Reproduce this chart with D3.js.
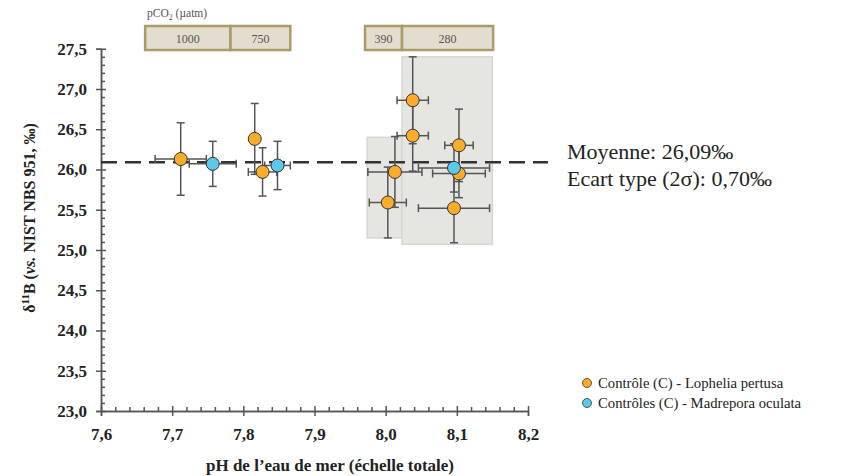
<!DOCTYPE html>
<html lang="fr">
<head>
    <meta charset="utf-8">
    <script src="https://cdn.jsdelivr.net/npm/d3@7"></script>
    <style>
        body { margin: 0; background: #fff; }
        text { font-family: "Liberation Serif", "Times New Roman", serif; }
    </style>
</head>
<body>
<script>

    // Contrôles Lophelia pertusa : [pH, erreur pH, d11B, erreur d11B (2σ)]
    let lophelia = [
        [7.712, 0.036, 26.13, 0.45],
        [7.816, 0.000, 26.38, 0.44],
        [7.827, 0.020, 25.97, 0.30],
        [8.038, 0.022, 26.86, 0.54],
        [8.038, 0.022, 26.42, 0.44],
        [8.013, 0.038, 25.97, 0.44],
        [8.003, 0.026, 25.59, 0.44],
        [8.103, 0.020, 26.30, 0.45],
        [8.103, 0.037, 25.95, 0.30],
        [8.096, 0.050, 25.52, 0.43]
    ];

    // Contrôles Madrepora oculata
    let madrepora = [
        [7.757, 0.033, 26.07, 0.28],
        [7.848, 0.018, 26.05, 0.30],
        [8.096, 0.050, 26.02, 0.30]
    ];

    // pCO2 boxes : label, pH min, pH max
    let pco2Boxes = [
        ["1000", 7.662, 7.782],
        ["750", 7.782, 7.866],
        ["390", 7.971, 8.023],
        ["280", 8.023, 8.151]
    ];

    // shaded zones : pH min, pH max, d11B min, d11B max
    let zones = [
        [7.974, 8.023, 25.15, 26.40],
        [8.023, 8.150, 25.07, 27.40]
    ];

    let meanValue = 26.09;
    let statLines = ["Moyenne: 26,09‰", "Ecart type (2σ): 0,70‰"];
    let xTicks = [7.6, 7.7, 7.8, 7.9, 8.0, 8.1, 8.2];
    let yTicks = [23.0, 23.5, 24.0, 24.5, 25.0, 25.5, 26.0, 26.5, 27.0, 27.5];

    let w = 843;
    let h = 476;

    let x = d3.scaleLinear().domain([7.6, 8.2]).range([101, 528]);
    let y = d3.scaleLinear().domain([23, 27.5]).range([411, 48.75]);
    let fmt = d => d3.format(".1f")(d).replace(".", ",");

    let svg = d3.select("body")
        .append("svg")
        .attr("width", w)
        .attr("height", h);

    // pCO2 header
    svg.append("text")
        .attr("x", 147).attr("y", 17)
        .attr("font-size", 11.5).attr("fill", "#555")
        .html('pCO<tspan font-size="8" dy="3">2</tspan><tspan dy="-3"> (µatm)</tspan>');

    let boxes = svg.append("g").selectAll("g")
        .data(pco2Boxes)
        .enter().append("g");
    boxes.append("rect")
        .attr("x", d => x(d[1]))
        .attr("width", d => x(d[2]) - x(d[1]))
        .attr("y", 26).attr("height", 24)
        .attr("fill", "#e3ddcf")
        .attr("stroke", "#a99c66")
        .attr("stroke-width", 2.5);
    boxes.append("text")
        .attr("x", d => (x(d[1]) + x(d[2])) / 2)
        .attr("y", 43)
        .attr("text-anchor", "middle")
        .attr("font-size", 12).attr("fill", "#555")
        .text(d => d[0]);

    // shaded zones
    svg.append("g").selectAll("rect")
        .data(zones)
        .enter().append("rect")
        .attr("x", d => x(d[0]))
        .attr("width", d => x(d[1]) - x(d[0]))
        .attr("y", d => y(d[3]))
        .attr("height", d => y(d[2]) - y(d[3]))
        .attr("fill", "#e5e5e1")
        .attr("stroke", "#d6d6d2")
        .attr("stroke-width", 1.5);

    // axes
    let axisColor = "#555";
    let yAxis = svg.append("g")
        .attr("transform", "translate(" + x(7.6) + ",0)")
        .call(d3.axisLeft(y).tickValues(yTicks).tickSize(5).tickPadding(9).tickFormat(fmt));
    yAxis.selectAll(".tick line").attr("x1", 5);
    svg.append("g")
        .attr("transform", "translate(" + x(7.6) + ",0)")
        .call(d3.axisRight(y).tickValues(d3.range(230, 275).filter(v => v % 5 !== 0).map(v => v / 10))
            .tickSize(4).tickSizeOuter(0).tickFormat(""));

    let xAxis = svg.append("g")
        .attr("transform", "translate(0," + y(23) + ")")
        .call(d3.axisBottom(x).tickValues(xTicks).tickSize(5).tickPadding(12).tickFormat(fmt));
    xAxis.selectAll(".tick line").attr("y1", -5);
    svg.append("g")
        .attr("transform", "translate(0," + y(23) + ")")
        .call(d3.axisTop(x).tickValues(d3.range(380, 410).filter(v => v % 5 !== 0).map(v => v / 50))
            .tickSize(4).tickSizeOuter(0).tickFormat(""));

    svg.selectAll(".domain, .tick line").attr("stroke", axisColor).attr("stroke-width", 1.5);
    svg.selectAll(".tick text")
        .attr("font-weight", "bold")
        .attr("font-size", 17)
        .attr("fill", "#222");

    // axis titles
    svg.append("text")
        .attr("x", 330).attr("y", 471)
        .attr("text-anchor", "middle")
        .attr("font-weight", "bold").attr("font-size", 17).attr("fill", "#222")
        .text("pH de l\u2019eau de mer (échelle totale)");

    svg.append("text")
        .attr("transform", "translate(35,218) rotate(-90)")
        .attr("text-anchor", "middle")
        .attr("font-weight", "bold").attr("font-size", 16).attr("fill", "#222")
        .html('δ<tspan font-size="11" dy="-6">11</tspan><tspan dy="6">B (</tspan><tspan font-style="italic">vs.</tspan> NIST NBS 951, ‰)');

    // mean line
    svg.append("line")
        .attr("x1", x(7.6)).attr("x2", x(8.2) + 20)
        .attr("y1", y(meanValue)).attr("y2", y(meanValue))
        .attr("stroke", "#333").attr("stroke-width", 2.5)
        .attr("stroke-dasharray", "16,8");

    svg.append("g").selectAll("text")
        .data(statLines).enter().append("text")
        .attr("x", 567).attr("y", (d, i) => 159 + i * 27)
        .attr("font-size", 22).attr("fill", "#222")
        .text(d => d);

    // error bars
    function drawErrors(data) {
        let g = svg.append("g").attr("stroke", "#555").attr("stroke-width", 1.5);
        let cap = 4;
        data.forEach(function (d) {
            let cx = x(d[0]), cy = y(d[2]);
            if (d[1] > 0) {
                g.append("line").attr("x1", x(d[0] - d[1])).attr("x2", x(d[0] + d[1])).attr("y1", cy).attr("y2", cy);
                g.append("line").attr("x1", x(d[0] - d[1])).attr("x2", x(d[0] - d[1])).attr("y1", cy - cap).attr("y2", cy + cap);
                g.append("line").attr("x1", x(d[0] + d[1])).attr("x2", x(d[0] + d[1])).attr("y1", cy - cap).attr("y2", cy + cap);
            }
            g.append("line").attr("x1", cx).attr("x2", cx).attr("y1", y(d[2] - d[3])).attr("y2", y(d[2] + d[3]));
            g.append("line").attr("x1", cx - cap).attr("x2", cx + cap).attr("y1", y(d[2] - d[3])).attr("y2", y(d[2] - d[3]));
            g.append("line").attr("x1", cx - cap).attr("x2", cx + cap).attr("y1", y(d[2] + d[3])).attr("y2", y(d[2] + d[3]));
        });
    }
    drawErrors(lophelia);
    drawErrors(madrepora);

    // points
    svg.append("g").selectAll("circle")
        .data(lophelia).enter().append("circle")
        .attr("cx", d => x(d[0])).attr("cy", d => y(d[2])).attr("r", 6.5)
        .attr("fill", "#f9ad2a").attr("stroke", "#333").attr("stroke-width", 1);
    svg.append("g").selectAll("circle")
        .data(madrepora).enter().append("circle")
        .attr("cx", d => x(d[0])).attr("cy", d => y(d[2])).attr("r", 6.5)
        .attr("fill", "#5cc9ea").attr("stroke", "#333").attr("stroke-width", 1);

    // legend
    let legend = [["Contrôle (C) - Lophelia pertusa", "#f9ad2a"], ["Contrôles (C) - Madrepora oculata", "#5cc9ea"]];
    let lg = svg.append("g").selectAll("g")
        .data(legend).enter().append("g")
        .attr("transform", (d, i) => "translate(587," + (383 + i * 20) + ")");
    lg.append("circle").attr("r", 4.5).attr("fill", d => d[1]).attr("stroke", "#333").attr("stroke-width", 0.8);
    lg.append("text").attr("x", 11).attr("y", 5).attr("font-size", 14.7).attr("fill", "#222").text(d => d[0]);

</script>
</body>
</html>
